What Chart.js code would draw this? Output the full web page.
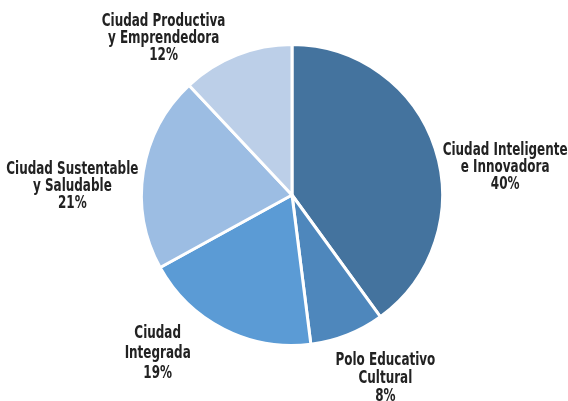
<!DOCTYPE html>
<html>
<head>
<meta charset="utf-8">
<script src="https://cdn.jsdelivr.net/npm/chart.js@4/dist/chart.umd.min.js"></script>
<style>
  html, body { margin: 0; padding: 0; background: #fff; }
  #wrap { width: 568px; height: 401px; }
</style>
</head>
<body>
<div id="wrap"><canvas id="pastel"></canvas></div>
<script>
// datos del gráfico
const categorias = [
  ["Ciudad Inteligente", "e Innovadora"],
  ["Polo Educativo", "Cultural"],
  ["Ciudad", "Integrada"],
  ["Ciudad Sustentable", "y Saludable"],
  ["Ciudad Productiva", "y Emprendedora"]
];
const porcentajes = [40, 8, 19, 21, 12];
const colores = ["#44739e", "#4e87bc", "#5b9bd5", "#9cbde3", "#bccfe8"];

// desplazamiento de cada etiqueta respecto al borde del sector
const desplazamientos = [
  [70, 19], [38, 43], [-66, 24], [-71, 15], [-73, -17]
];
const altoLinea = [17, 18, 20, 17, 17];

// plugin para dibujar las etiquetas fuera del pastel
const etiquetasExternas = {
  id: "etiquetasExternas",
  afterDatasetsDraw(chart) {
    const ctx = chart.ctx;
    const meta = chart.getDatasetMeta(0);
    ctx.save();
    ctx.fillStyle = "#222";
    ctx.textAlign = "center";
    ctx.textBaseline = "middle";
    meta.data.forEach((arc, i) => {
      const mid = (arc.startAngle + arc.endAngle) / 2;
      const bx = arc.x + Math.cos(mid) * arc.outerRadius;
      const by = arc.y + Math.sin(mid) * arc.outerRadius;
      const cx = bx + desplazamientos[i][0];
      const cy = by + desplazamientos[i][1];
      const lineas = categorias[i].concat([porcentajes[i] + "%"]);
      const lh = altoLinea[i];
      lineas.forEach((t, k) => {
        const y = cy + (k - 1) * lh;
        ctx.save();
        ctx.translate(cx, y);
        ctx.scale(0.74, 1);
        ctx.font = "bold 18px 'DejaVu Sans Condensed', 'DejaVu Sans', sans-serif";
        ctx.fillText(t, 0, 0);
        ctx.restore();
      });
    });
    ctx.restore();
  }
};

const ctx = document.getElementById("pastel").getContext("2d");
new Chart(ctx, {
  type: "pie",
  data: {
    labels: categorias.map((c) => c.join(" ")),
    datasets: [{
      data: porcentajes,
      backgroundColor: colores,
      borderColor: "#ffffff",
      borderWidth: 3
    }]
  },
  options: {
    responsive: true,
    maintainAspectRatio: false,
    animation: false,
    layout: { padding: { top: 43, bottom: 54, left: 58, right: 42 } },
    plugins: {
      legend: { display: false },
      tooltip: { enabled: false }
    }
  },
  plugins: [etiquetasExternas]
});
</script>
</body>
</html>
